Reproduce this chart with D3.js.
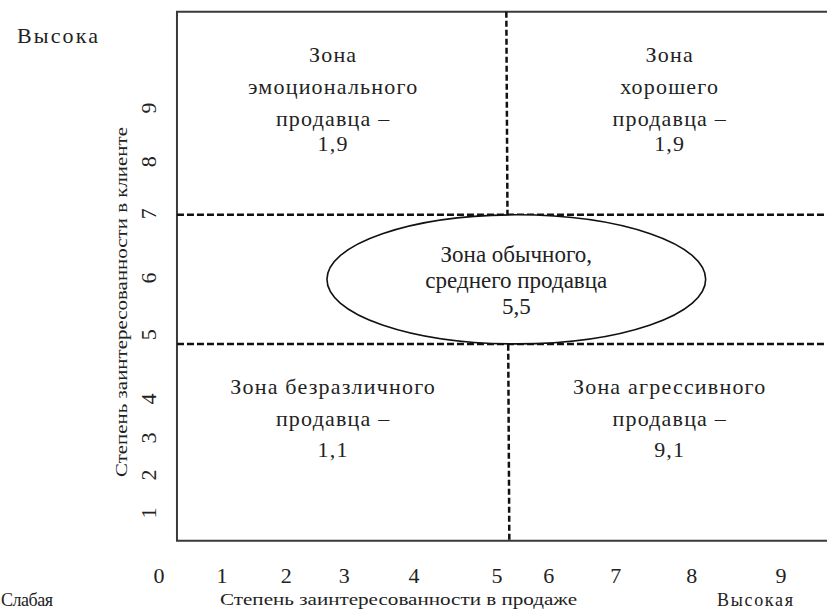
<!DOCTYPE html>
<html>
<head>
<meta charset="utf-8">
<script src="https://cdn.jsdelivr.net/npm/d3@7/dist/d3.min.js"></script>
<style>
  body { margin: 0; background: #fff; }
  text { font-family: "Liberation Serif", "DejaVu Serif", serif; fill: #222; }
</style>
</head>
<body>
<div id="chart"></div>
<script>
// tick labels and where each one sits on its axis (axis units)
var xTicks = ['0', '1', '2', '3', '4', '5', '6', '7', '8', '9'];
var xTickAt = [0, 0.91, 1.84, 2.68, 3.69, 4.89, 5.64, 6.61, 7.71, 9];
var yTicks = ['1', '2', '3', '4', '5', '6', '7', '8', '9'];
var yTickAt = [1, 1.75, 2.48, 3.25, 4.52, 5.64, 6.91, 7.94, 9];

// zone borders (axis units)
var xDivider = 5.04;
var yDividers = [4.34, 6.89];

// zones: text lines and score
var zoneNames = [
  ['Зона', 'эмоционального', 'продавца –'],
  ['Зона', 'хорошего', 'продавца –'],
  ['Зона безразличного', 'продавца –'],
  ['Зона агрессивного', 'продавца –']
];
var zoneScores = ['1,9', '1,9', '1,1', '9,1'];
var middleZone = ['Зона обычного,', 'среднего продавца'];
var middleScore = '5,5';

var xTitle = 'Степень заинтересованности в продаже';
var yTitle = 'Степень заинтересованности в клиенте';

(function(d3) {
  'use strict';

  var width = 827;
  var height = 610;

  var x = d3.scaleLinear().domain([0, 9]).range([159, 781]);
  var y = d3.scaleLinear().domain([1, 9]).range([513, 108]);

  var frame = { x0: 0.26, x1: 9.8, y0: 0.45, y1: 10.9 };

  var svg = d3.select('#chart')
    .append('svg')
    .attr('width', width)
    .attr('height', height);

  // frame: left, top, bottom (right side runs off the picture)
  svg.append('path')
    .attr('d', 'M' + x(frame.x1) + ',' + y(frame.y1) +
      'H' + x(frame.x0) + 'V' + y(frame.y0) + 'H' + x(frame.x1))
    .attr('fill', 'none')
    .attr('stroke', '#3a3a3a')
    .attr('stroke-width', 2);

  // dashed zone borders
  svg.selectAll('.hdiv')
    .data(yDividers)
    .enter()
    .append('line')
    .attr('class', 'hdiv')
    .attr('x1', x(frame.x0))
    .attr('x2', x(frame.x1))
    .attr('y1', function(d) { return y(d); })
    .attr('y2', function(d) { return y(d); })
    .attr('stroke', '#111')
    .attr('stroke-width', 2.5)
    .attr('stroke-dasharray', '7,3');

  svg.append('line')
    .attr('x1', x(xDivider) - 1)
    .attr('x2', x(xDivider) + 2)
    .attr('y1', y(frame.y1))
    .attr('y2', y(frame.y0))
    .attr('stroke', '#111')
    .attr('stroke-width', 2.5)
    .attr('stroke-dasharray', '6,3');

  // middle ellipse between the two horizontal borders
  var ecx = 5.17, erx = 2.74;
  var ecy = (yDividers[0] + yDividers[1]) / 2;
  svg.append('ellipse')
    .attr('cx', x(ecx))
    .attr('cy', y(ecy))
    .attr('rx', x(ecx + erx) - x(ecx))
    .attr('ry', (y(yDividers[0]) - y(yDividers[1])) / 2)
    .attr('fill', '#fff')
    .attr('stroke', '#111')
    .attr('stroke-width', 1.6);

  var mid = svg.append('g')
    .attr('font-size', 23)
    .attr('text-anchor', 'middle');
  middleZone.concat([middleScore]).forEach(function(t, i) {
    mid.append('text')
      .attr('x', x(ecx))
      .attr('y', y(ecy) - 17 + i * 26)
      .text(t);
  });

  // quadrant captions (centre of each block in axis units)
  var quads = [
    { cx: 2.52, top: frame.y1 },
    { cx: 7.39, top: frame.y1 },
    { cx: 2.52, top: yDividers[0] },
    { cx: 7.39, top: yDividers[0] }
  ];
  zoneNames.forEach(function(lines, i) {
    var q = quads[i];
    var g = svg.append('g')
      .attr('font-size', 22)
      .attr('letter-spacing', 1.2)
      .attr('text-anchor', 'middle');
    var cx = x(q.cx);
    var top = y(q.top);
    lines.forEach(function(t, j) {
      g.append('text')
        .attr('x', cx)
        .attr('y', top + 50 + j * 32)
        .text(t);
    });
    g.append('text')
      .attr('x', cx)
      .attr('y', top + 50 + (lines.length - 1) * 32 + (lines.length > 2 ? 25 : 31))
      .text(zoneScores[i]);
  });

  // x tick labels
  svg.selectAll('.xtick')
    .data(xTicks)
    .enter()
    .append('text')
    .attr('class', 'xtick')
    .attr('x', function(d, i) { return x(xTickAt[i]); })
    .attr('y', 583)
    .attr('text-anchor', 'middle')
    .attr('font-size', 22)
    .text(function(d) { return d; });

  // y tick labels, turned like the title
  svg.selectAll('.ytick')
    .data(yTicks)
    .enter()
    .append('text')
    .attr('class', 'ytick')
    .attr('transform', function(d, i) {
      return 'translate(156,' + y(yTickAt[i]) + ') rotate(-90)';
    })
    .attr('text-anchor', 'middle')
    .attr('font-size', 22)
    .text(function(d) { return d; });

  // axis titles
  svg.append('text')
    .attr('x', 220)
    .attr('y', 605)
    .attr('font-size', 17)
    .attr('textLength', 357)
    .attr('lengthAdjust', 'spacingAndGlyphs')
    .text(xTitle);

  svg.append('text')
    .attr('transform', 'translate(127,477) rotate(-90)')
    .attr('font-size', 17)
    .attr('textLength', 350)
    .attr('lengthAdjust', 'spacingAndGlyphs')
    .text(yTitle);

  svg.append('text')
    .attr('x', 17)
    .attr('y', 43)
    .attr('font-size', 22)
    .attr('textLength', 81)
    .text('Высока');
  svg.append('text')
    .attr('x', 1)
    .attr('y', 606)
    .attr('font-size', 18)
    .attr('textLength', 52)
    .text('Слабая');
  svg.append('text')
    .attr('x', 717)
    .attr('y', 606)
    .attr('font-size', 18)
    .attr('textLength', 76)
    .text('Высокая');

})(window.d3);
</script>
</body>
</html>
